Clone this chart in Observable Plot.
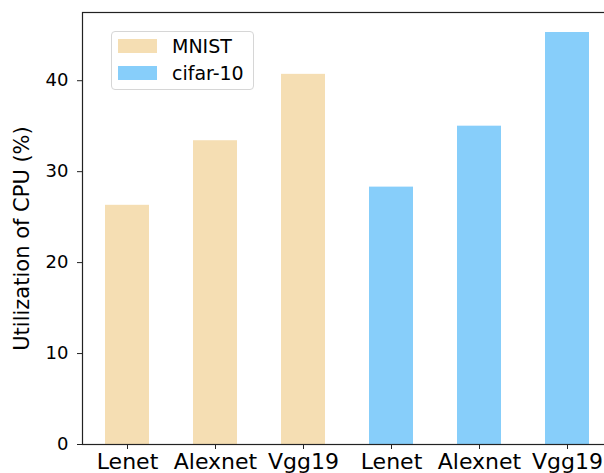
<!DOCTYPE html>
<html>
<head>
<meta charset="utf-8">
<script src="https://cdn.jsdelivr.net/npm/d3@7"></script>
<script src="https://cdn.jsdelivr.net/npm/@observablehq/plot@0.6"></script>
<style>
  html, body { margin: 0; padding: 0; background: #fff; overflow: hidden; }
  #wrap { position: relative; width: 604px; height: 473px; font-family: "DejaVu Sans", sans-serif; }
  #wrap svg { overflow: hidden; }
  .legend { position: absolute; left: 111px; top: 31px; width: 141px; height: 57px;
    border: 1px solid #d6d6d6; border-radius: 4px; background: rgba(255,255,255,0.8); }
  .legend .row { position: absolute; left: 6px; display: flex; align-items: center; height: 20px; }
  .legend .sw { width: 39px; height: 14px; margin-right: 15px; }
  .legend .lb { font-size: 19px; color: #000; }
</style>
</head>
<body>
<div id="wrap"></div>
<script>
const models = ["Lenet", "Alexnet", "Vgg19"];
const datasets = ["MNIST", "cifar-10"];
const mnistValues = [26.3, 33.4, 40.7];
const cifarValues = [28.3, 35.0, 45.3];
const colors = ["#F5DEB3", "#87CEFA"];
const yTicks = [0, 10, 20, 30, 40];
const yLabel = "Utilization of CPU (%)";

const data = [];
models.forEach((m, i) => data.push({key: "MNIST-" + m, model: m, dataset: "MNIST", value: mnistValues[i]}));
models.forEach((m, i) => data.push({key: "cifar-" + m, model: m, dataset: "cifar-10", value: cifarValues[i]}));
const keyLabel = new Map(data.map(d => [d.key, d.model]));

const chart = Plot.plot({
  width: 604,
  height: 473,
  marginLeft: 82,
  marginRight: -7,
  marginTop: 12,
  marginBottom: 29,
  style: {fontFamily: "DejaVu Sans, sans-serif", background: "white", color: "#000"},
  x: {domain: data.map(d => d.key), paddingInner: 0.5, paddingOuter: 0.25, range: [82, 611]},
  y: {domain: [0, 47.5]},
  color: {domain: datasets, range: colors},
  marks: [
    Plot.barY(data, {x: "key", y: "value", fill: "dataset"}),
    Plot.frame({stroke: "#222", strokeWidth: 1.2}),
    Plot.axisY({ticks: yTicks, tickSize: 5, tickPadding: 9, fontSize: 18, label: null, stroke: "#222"}),
    Plot.axisX({tickSize: 5, tickPadding: 4, fontSize: 22, label: null, tickFormat: k => keyLabel.get(k), stroke: "#222"}),
    Plot.text([yLabel], {frameAnchor: "left", textAnchor: "middle", rotate: -90, dx: -60, dy: 10, fontSize: 21, fill: "#000"})
  ]
});

const wrap = document.getElementById("wrap");
wrap.appendChild(chart);

const legend = document.createElement("div");
legend.className = "legend";
datasets.forEach((name, i) => {
  const row = document.createElement("div");
  row.className = "row";
  row.style.top = (i === 0 ? 4 : 31) + "px";
  const sw = document.createElement("div");
  sw.className = "sw";
  sw.style.background = colors[i];
  const lb = document.createElement("span");
  lb.className = "lb";
  lb.textContent = name;
  row.appendChild(sw);
  row.appendChild(lb);
  legend.appendChild(row);
});
wrap.appendChild(legend);
</script>
</body>
</html>
